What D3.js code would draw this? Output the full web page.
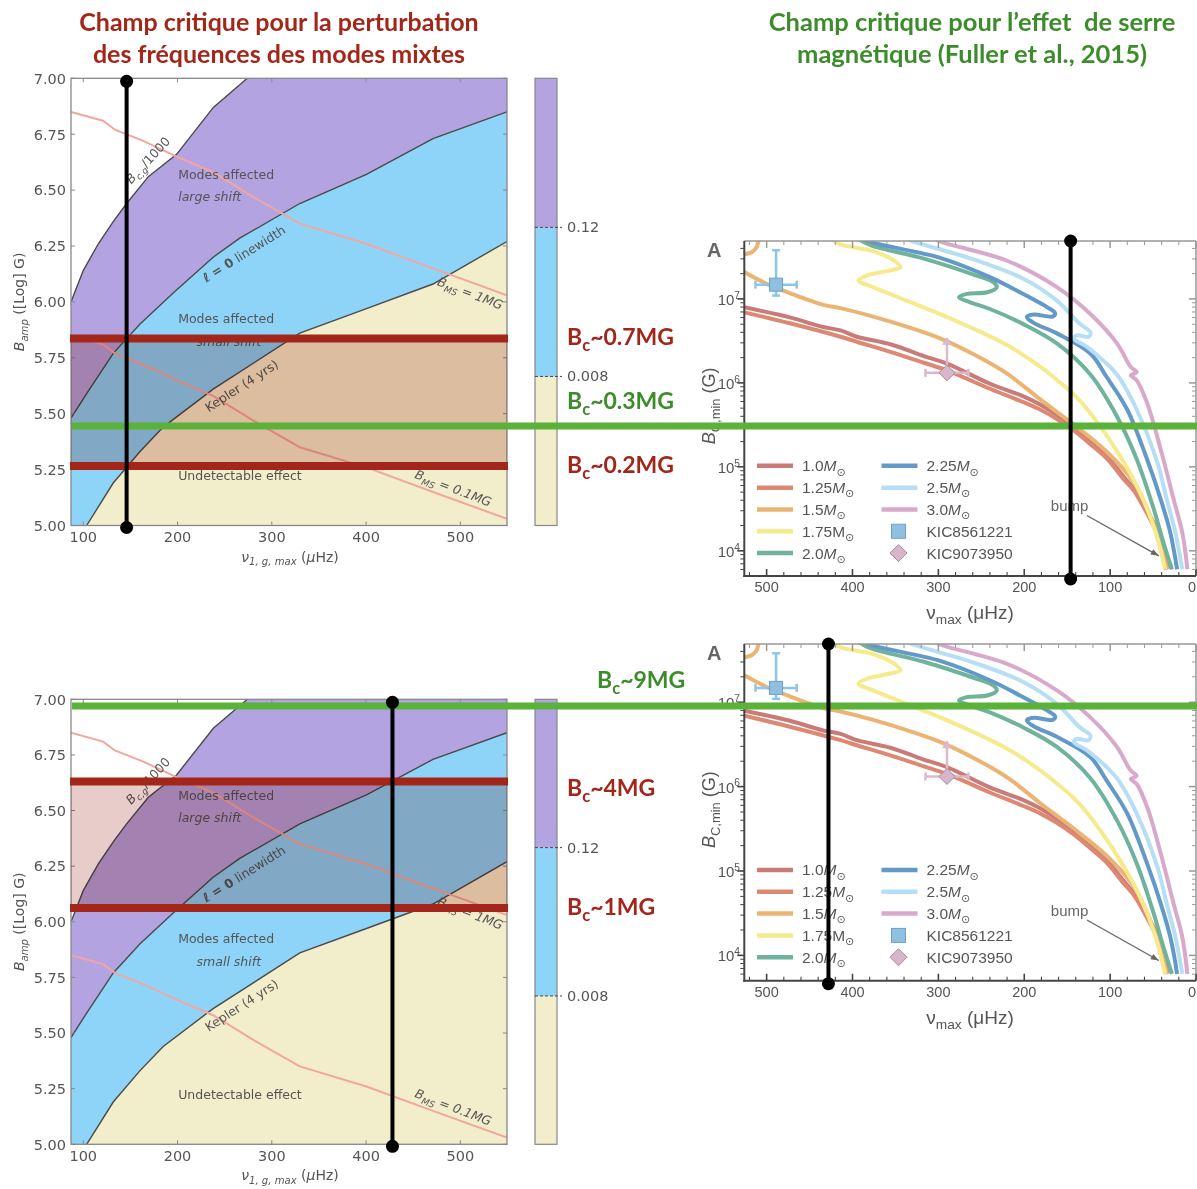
<!DOCTYPE html>
<html><head><meta charset="utf-8">
<script src="https://cdn.jsdelivr.net/npm/d3@7/dist/d3.min.js"></script>
<style>
body{margin:0;background:#fff}
svg{display:block}
text{white-space:pre}
</style></head><body>
<svg id="c" width="1197" height="1189"></svg>
<script>
// ================= DATA =================
const titleRed = ["Champ critique pour la perturbation", "des fréquences des modes mixtes"];
const titleGreen = ["Champ critique pour l’effet  de serre", "magnétique (Fuller et al., 2015)"];

const leftXTicks = [100, 200, 300, 400, 500];
const leftYTicks = [5.00, 5.25, 5.50, 5.75, 6.00, 6.25, 6.50, 6.75, 7.00];
const bcgCurve = [[87,6.00],[100,6.14],[116,6.26],[132,6.36],[146,6.44],[169,6.56],[199,6.66],[238,6.87],[274,7.00]];
const l0Curve = [[87,5.48],[103.6,5.59],[131.8,5.77],[160,5.90],[195.4,6.04],[237.8,6.20],[266,6.285],[329.7,6.44],[400.4,6.57],[471,6.73],[549.4,6.85]];
const keplerCurve = [[103.6,5.00],[131.8,5.19],[160,5.33],[184.8,5.44],[237.8,5.61],[329.7,5.86],[400.4,5.97],[471,6.08],[549.4,6.27]];
const bms1Curve = [[87,6.85],[121,6.81],[133.6,6.77],[163.6,6.72],[199,6.65],[237.8,6.58],[280,6.47],[329.7,6.35],[400.4,6.26],[471,6.15],[549.4,6.03]];
const bms01Curve = [[87,5.85],[121,5.81],[133.6,5.77],[163.6,5.72],[199,5.65],[237.8,5.58],[280,5.47],[329.7,5.35],[400.4,5.26],[471,5.15],[549.4,5.03]];
const cbColors = ['#f2edca', '#8ed4f9', '#b3a3e1'];
const cbLabels = ['0.008', '0.12'];

const nuTicks = [500, 400, 300, 200, 100, 0];
const bExps = [4, 5, 6, 7];
const massNames = ['1.0', '1.25', '1.5', '1.75', '2.0', '2.25', '2.5', '3.0'];
const massColors = ['#c97b78', '#dd8872', '#ebb472', '#f6ea8c', '#6fb39d', '#6399c8', '#b6def5', '#d9a9cc'];
const m100 = [[526,6.90],[473,6.78],[434,6.665],[414,6.625],[395,6.55],[356,6.46],[317,6.32],[290,6.23],[240,5.99],[201,5.84],[181,5.74],[162,5.62],[142,5.47],[123,5.30],[104,5.13],[84,4.88],[72,4.73],[57,4.46],[49,4.33],[43,4.14],[38,3.94],[35,3.78]];
const m125 = [[526,6.84],[473,6.71],[414,6.55],[395,6.49],[356,6.37],[317,6.24],[290,6.15],[240,5.93],[201,5.77],[181,5.68],[162,5.57],[142,5.43],[123,5.27],[104,5.10],[84,4.85],[72,4.71],[53,4.37],[45,4.20],[38,4.00],[33,3.78]];
const m150 = [[526,7.32],[500,7.18],[473,7.07],[434,6.93],[414,6.89],[376,6.79],[337,6.67],[298,6.53],[259,6.34],[220,6.11],[181,5.80],[142,5.50],[104,5.18],[72,4.81],[53,4.41],[41,4.06],[34,3.78]];
const m150b = [[509,7.72],[510,7.67],[512,7.61],[517,7.56],[526,7.53]];
const m175 = [[426,7.72],[414,7.65],[376,7.57],[352,7.46],[344,7.38],[356,7.34],[383,7.28],[393,7.22],[376,7.14],[337,6.98],[298,6.82],[259,6.645],[220,6.45],[181,6.19],[166,6.07],[142,5.86],[123,5.64],[88,5.12],[65,4.69],[47,4.22],[36,3.78]];
const m200 = [[394,7.72],[379,7.64],[317,7.48],[259,7.29],[236,7.20],[232,7.14],[243,7.08],[267,7.06],[276,7.02],[263,6.96],[240,6.88],[201,6.70],[162,6.47],[123,6.10],[92,5.60],[69,5.09],[49,4.49],[38,4.10],[28,3.78]];
const m225 = [[388,7.72],[376,7.67],[298,7.49],[240,7.26],[205,7.08],[173,6.90],[164,6.83],[167,6.79],[189,6.815],[197,6.785],[189,6.715],[162,6.59],[123,6.35],[104,6.07],[80,5.68],[57,5.09],[41,4.61],[30,4.22],[22,3.78]];
const m250 = [[338,7.72],[325,7.67],[259,7.47],[201,7.24],[162,6.98],[135,6.70],[123,6.605],[125,6.55],[139,6.565],[142,6.525],[127,6.43],[104,6.23],[90,6.07],[69,5.68],[45,5.05],[34,4.61],[24,4.22],[16,3.78]];
const m300 = [[306,7.72],[294,7.67],[220,7.455],[162,7.14],[123,6.82],[92,6.47],[76,6.19],[69,6.13],[72,6.11],[76,6.09],[69,6.03],[60,5.84],[53,5.64],[38,5.09],[26,4.61],[16,4.22],[10,3.78]];
const massCurves = [[m100], [m125], [m150, m150b], [m175], [m200], [m225], [m250], [m300]];
const massItalicM = [true, true, true, false, true, true, true, true];
const kicNames = ['KIC8561221', 'KIC9073950'];
const kic1 = {nu: 489, b: 7.17, nuLo: 465, nuHi: 513, bLo: 7.04, bHi: 7.58};
const kic2 = {nu: 290, b: 6.12, nuLo: 265, nuHi: 315, bUp: 6.55};
const bump = {label: 'bump', textNu: 169, textB: 4.47, fromNu: 127, fromB: 4.42, toNu: 43.3, toB: 3.94};

const annTop = {red: [5.836, 5.266], green: 5.445, nu: 146, labels: [['0.7MG','r',0],['0.3MG','g',0],['0.2MG','r',0]]};
const annBot = {red: [6.631, 6.062], green: 6.97, nu: 428, labels: [['9MG','g',1],['4MG','r',0],['1MG','r',0]]};

// ================= DRAW =================
const svg = d3.select('#c');
const defs = svg.append('defs');
const FL = "'DejaVu Sans', sans-serif";
const FR = "'Liberation Sans', Arial, sans-serif";
const FT = "Lato, 'Open Sans', sans-serif";
const RED = '#a3261a', GREENT = '#3d8c2b', GREENL = '#5ab23b';

function rich(txt, parts, size) {
  let cur = 0;
  parts.forEach(p => {
    const ts = txt.append('tspan').text(p.t);
    let target = 0, fs = size;
    if (p.sub) { target = size * 0.28; fs = size * 0.72; }
    if (p.sup) { target = -size * 0.42; fs = size * 0.68; }
    ts.attr('font-size', fs);
    if (target !== cur) { ts.attr('dy', target - cur); cur = target; }
    if (p.i) ts.attr('font-style', 'italic');
    if (p.b) ts.attr('font-weight', 'bold');
    if (p.f) ts.attr('font-family', p.f);
  });
}

titleRed.forEach((t, i) => svg.append('text').attr('x', 279).attr('y', 31 + i * 32).attr('text-anchor', 'middle')
  .attr('font-family', FT).attr('font-weight', 'bold').attr('font-size', 25).attr('fill', RED).text(t));
titleGreen.forEach((t, i) => svg.append('text').attr('x', 972).attr('y', 31 + i * 32).attr('text-anchor', 'middle')
  .attr('font-family', FT).attr('font-weight', 'bold').attr('font-size', 25.5).attr('fill', GREENT).text(t));

const LX = [71, 507];
const xL = d3.scaleLinear().domain([87, 549.5]).range(LX);

function drawLeft(top, bottom, cid) {
  const y = d3.scaleLinear().domain([5, 7]).range([bottom, top]);
  defs.append('clipPath').attr('id', cid).append('rect').attr('x', LX[0]).attr('y', top)
    .attr('width', LX[1] - LX[0]).attr('height', bottom - top);
  const g = svg.append('g');
  const gc = g.append('g').attr('clip-path', `url(#${cid})`);
  gc.append('rect').attr('x', LX[0]).attr('y', top).attr('width', LX[1] - LX[0]).attr('height', bottom - top).attr('fill', cbColors[2]);
  gc.append('path').datum(bcgCurve).attr('fill', '#fff')
    .attr('d', d3.area().x(d => xL(d[0])).y0(top - 10).y1(d => y(d[1])));
  gc.append('path').datum(l0Curve).attr('fill', cbColors[1])
    .attr('d', d3.area().x(d => xL(d[0])).y0(bottom + 10).y1(d => y(d[1])));
  gc.append('path').datum(keplerCurve).attr('fill', cbColors[0])
    .attr('d', d3.area().x(d => xL(d[0])).y0(bottom + 10).y1(d => y(d[1])));
  const line = d3.line().x(d => xL(d[0])).y(d => y(d[1]));
  [bcgCurve, l0Curve, keplerCurve].forEach(c => gc.append('path').datum(c).attr('fill', 'none')
    .attr('stroke', '#4a4a4a').attr('stroke-width', 1.4).attr('d', line));
  [bms1Curve, bms01Curve].forEach(c => gc.append('path').datum(c).attr('fill', 'none')
    .attr('stroke', '#f2a69e').attr('stroke-width', 2).attr('d', line));

  const lab = (nu, v, rot, parts, size, anchor) => {
    const t = g.append('text').attr('font-family', FL).attr('fill', '#555').attr('font-size', size)
      .attr('text-anchor', anchor || 'middle')
      .attr('transform', `translate(${xL(nu)},${y(v) + size * 0.35}) rotate(${rot})`);
    rich(t, parts, size);
  };
  lab(172, 6.64, -47, [{t: 'B', i: 1}, {t: 'c,g', sub: 1, i: 1}, {t: '/1000'}], 12.5);
  lab(200.7, 6.569, 0, [{t: 'Modes affected'}], 12.5, 'start');
  lab(200.7, 6.47, 0, [{t: 'large shift', i: 1}], 12.5, 'start');
  lab(273, 6.218, -32, [{t: 'ℓ = 0', b: 1}, {t: ' linewidth'}], 12.5);
  lab(200.7, 5.924, 0, [{t: 'Modes affected'}], 12.5, 'start');
  lab(220.2, 5.822, 0, [{t: 'small shift', i: 1}], 12.5, 'start');
  lab(270.5, 5.628, -33, [{t: 'Kepler (4 yrs)'}], 12.5);
  lab(200.7, 5.224, 0, [{t: 'Undetectable effect'}], 12.5, 'start');
  lab(508.8, 6.04, 21, [{t: 'B', i: 1}, {t: 'MS', sub: 1, i: 1}, {t: ' = 1MG', i: 1}], 12.5);
  lab(490.8, 5.168, 21, [{t: 'B', i: 1}, {t: 'MS', sub: 1, i: 1}, {t: ' = 0.1MG', i: 1}], 12.5);

  g.append('rect').attr('x', LX[0]).attr('y', top).attr('width', LX[1] - LX[0]).attr('height', bottom - top)
    .attr('fill', 'none').attr('stroke', '#888').attr('stroke-width', 1.3);
  leftXTicks.forEach(v => {
    g.append('line').attr('x1', xL(v)).attr('x2', xL(v)).attr('y1', bottom).attr('y2', bottom - 4).attr('stroke', '#888');
    g.append('line').attr('x1', xL(v)).attr('x2', xL(v)).attr('y1', top).attr('y2', top + 4).attr('stroke', '#888');
    g.append('text').attr('x', xL(v)).attr('y', bottom + 16.5).attr('text-anchor', 'middle')
      .attr('font-family', FL).attr('font-size', 14.5).attr('fill', '#555').text(v);
  });
  leftYTicks.forEach(v => {
    g.append('line').attr('x1', LX[0]).attr('x2', LX[0] + 4).attr('y1', y(v)).attr('y2', y(v)).attr('stroke', '#888');
    g.append('line').attr('x1', LX[1]).attr('x2', LX[1] - 4).attr('y1', y(v)).attr('y2', y(v)).attr('stroke', '#888');
    g.append('text').attr('x', 66).attr('y', y(v) + 5.3).attr('text-anchor', 'end')
      .attr('font-family', FL).attr('font-size', 14.5).attr('fill', '#555').text(v.toFixed(2));
  });
  const xl = g.append('text').attr('x', (LX[0] + LX[1]) / 2 + 1).attr('y', bottom + 36).attr('text-anchor', 'middle')
    .attr('font-family', FL).attr('font-size', 14).attr('fill', '#555');
  rich(xl, [{t: 'ν', i: 1}, {t: '1, g, max', sub: 1, i: 1}, {t: ' ('}, {t: 'μ', i: 1}, {t: 'Hz)'}], 14);
  const yl = g.append('text').attr('transform', `translate(24,${(top + bottom) / 2}) rotate(-90)`).attr('text-anchor', 'middle')
    .attr('font-family', FL).attr('font-size', 14).attr('fill', '#555');
  rich(yl, [{t: 'B', i: 1}, {t: 'amp', sub: 1, i: 1}, {t: ' ([Log] G)'}], 14);

  const yc = d3.scaleLinear().domain([0, 3]).range([bottom, top]);
  cbColors.forEach((c, i) => g.append('rect').attr('x', 535).attr('width', 22).attr('y', yc(i + 1))
    .attr('height', yc(i) - yc(i + 1)).attr('fill', c));
  g.append('rect').attr('x', 535).attr('width', 22).attr('y', top).attr('height', bottom - top)
    .attr('fill', 'none').attr('stroke', '#888').attr('stroke-width', 1.2);
  cbLabels.forEach((l, i) => {
    g.append('line').attr('x1', 535).attr('x2', 562).attr('y1', yc(i + 1)).attr('y2', yc(i + 1))
      .attr('stroke', '#444').attr('stroke-dasharray', '3,2').attr('stroke-width', 1);
    g.append('text').attr('x', 567).attr('y', yc(i + 1) + 5).attr('font-family', FL).attr('font-size', 14.5)
      .attr('fill', '#555').text(l);
  });
  return y;
}

function drawRight(top, bottom, cid) {
  const X0 = 744.3, X1 = 1196;
  const x = d3.scaleLinear().domain([526, 0]).range([X0, X1]);
  const yl = d3.scaleLog().domain([Math.pow(10, 3.70), Math.pow(10, 7.69)]).range([bottom, top]);
  const Y = v => yl(Math.pow(10, v));
  defs.append('clipPath').attr('id', cid).append('rect').attr('x', X0).attr('y', top).attr('width', X1 - X0).attr('height', bottom - top);
  const g = svg.append('g');
  const gc = g.append('g').attr('clip-path', `url(#${cid})`);
  const line = d3.line().x(d => x(d[0])).y(d => Y(d[1])).curve(d3.curveCatmullRom.alpha(0.5));
  massCurves.forEach((segs, i) => segs.forEach(s => gc.append('path').datum(s).attr('fill', 'none')
    .attr('stroke', massColors[i]).attr('stroke-width', 4).attr('stroke-linejoin', 'round').attr('d', line)));

  const c1 = '#8cc5ea';
  const k1 = g.append('g').attr('stroke', c1).attr('stroke-width', 2.5);
  k1.append('line').attr('x1', x(kic1.nuLo)).attr('x2', x(kic1.nuHi)).attr('y1', Y(kic1.b)).attr('y2', Y(kic1.b));
  k1.append('line').attr('x1', x(kic1.nu)).attr('x2', x(kic1.nu)).attr('y1', Y(kic1.bLo)).attr('y2', Y(kic1.bHi));
  [kic1.nuLo, kic1.nuHi].forEach(n => k1.append('line').attr('x1', x(n)).attr('x2', x(n)).attr('y1', Y(kic1.b) - 4).attr('y2', Y(kic1.b) + 4));
  [kic1.bLo, kic1.bHi].forEach(b => k1.append('line').attr('x1', x(kic1.nu) - 4).attr('x2', x(kic1.nu) + 4).attr('y1', Y(b)).attr('y2', Y(b)));
  g.append('rect').attr('x', x(kic1.nu) - 6.5).attr('y', Y(kic1.b) - 6.5).attr('width', 13).attr('height', 13)
    .attr('fill', '#8fc0e2').attr('stroke', '#6e9fc4').attr('stroke-width', 1);
  const c2 = '#dcb8cb';
  const k2 = g.append('g').attr('stroke', c2).attr('stroke-width', 2.5);
  k2.append('line').attr('x1', x(kic2.nuLo)).attr('x2', x(kic2.nuHi)).attr('y1', Y(kic2.b)).attr('y2', Y(kic2.b));
  [kic2.nuLo, kic2.nuHi].forEach(n => k2.append('line').attr('x1', x(n)).attr('x2', x(n)).attr('y1', Y(kic2.b) - 4).attr('y2', Y(kic2.b) + 4));
  k2.append('line').attr('x1', x(kic2.nu)).attr('x2', x(kic2.nu)).attr('y1', Y(kic2.b)).attr('y2', Y(kic2.bUp) + 6);
  g.append('path').attr('d', `M${x(kic2.nu)},${Y(kic2.bUp)} l-5,8 l10,0 z`).attr('fill', c2);
  g.append('path').attr('d', `M${x(kic2.nu)},${Y(kic2.b) - 8} l8,8 l-8,8 l-8,-8 z`)
    .attr('fill', '#d8b6c9').attr('stroke', '#a98c9d').attr('stroke-width', 1);

  g.append('text').attr('x', x(bump.textNu)).attr('y', Y(bump.textB)).attr('font-family', FR).attr('font-size', 15)
    .attr('fill', '#666').text(bump.label);
  const ax1 = x(bump.fromNu), ay1 = Y(bump.fromB), ax2 = x(bump.toNu), ay2 = Y(bump.toB);
  g.append('line').attr('x1', ax1).attr('y1', ay1).attr('x2', ax2).attr('y2', ay2).attr('stroke', '#666').attr('stroke-width', 1.3);
  const ang = Math.atan2(ay2 - ay1, ax2 - ax1) * 180 / Math.PI;
  g.append('path').attr('d', 'M0,0 L-8,-3 L-8,3 Z').attr('fill', '#666').attr('transform', `translate(${ax2},${ay2}) rotate(${ang})`);

  g.append('line').attr('x1', X0).attr('x2', X1).attr('y1', top).attr('y2', top).attr('stroke', '#999').attr('stroke-width', 1.5);
  g.append('line').attr('x1', X1).attr('x2', X1).attr('y1', top).attr('y2', bottom).attr('stroke', '#999').attr('stroke-width', 1.5);
  g.append('line').attr('x1', X0).attr('x2', X0).attr('y1', top).attr('y2', bottom + 1).attr('stroke', '#444').attr('stroke-width', 2);
  g.append('line').attr('x1', X0 - 1).attr('x2', X1).attr('y1', bottom).attr('y2', bottom).attr('stroke', '#444').attr('stroke-width', 2);
  d3.range(0, 521, 20).forEach(v => {
    const maj = v % 100 === 0, L = maj ? 7 : 4;
    g.append('line').attr('x1', x(v)).attr('x2', x(v)).attr('y1', bottom).attr('y2', bottom - L).attr('stroke', '#444').attr('stroke-width', maj ? 1.6 : 1.1);
    g.append('line').attr('x1', x(v)).attr('x2', x(v)).attr('y1', top).attr('y2', top + L).attr('stroke', '#999').attr('stroke-width', maj ? 1.5 : 1);
  });
  nuTicks.forEach(v => g.append('text').attr('x', v === 0 ? 1196 : x(v)).attr('y', bottom + 16)
    .attr('text-anchor', v === 0 ? 'end' : 'middle')
    .attr('font-family', FR).attr('font-size', 14.5).attr('fill', '#555').text(v));
  [3, 4, 5, 6, 7].forEach(e => d3.range(1, 10).forEach(m => {
    const lv = e + Math.log10(m);
    if (lv < 3.70 || lv > 7.69) return;
    const maj = m === 1, L = maj ? 7 : 4, yy = Y(lv);
    g.append('line').attr('x1', X0).attr('x2', X0 - L).attr('y1', yy).attr('y2', yy).attr('stroke', '#444').attr('stroke-width', maj ? 1.6 : 1);
    g.append('line').attr('x1', X1).attr('x2', X1 - L).attr('y1', yy).attr('y2', yy).attr('stroke', '#999').attr('stroke-width', maj ? 1.5 : 1);
  }));
  bExps.forEach(e => {
    const t = g.append('text').attr('x', 740).attr('y', Y(e) + 6).attr('text-anchor', 'end')
      .attr('font-family', FR).attr('font-size', 15).attr('fill', '#555');
    rich(t, [{t: '10'}, {t: String(e), sup: 1}], 15);
  });
  g.append('text').attr('x', 707).attr('y', top + 16).attr('font-family', FR).attr('font-weight', 'bold')
    .attr('font-size', 20).attr('fill', '#666').text('A');
  const xlab = g.append('text').attr('x', 970).attr('y', bottom + 43).attr('text-anchor', 'middle')
    .attr('font-family', FR).attr('font-size', 19).attr('fill', '#555');
  rich(xlab, [{t: 'ν'}, {t: 'max', sub: 1}, {t: ' (μHz)'}], 19);
  const ylab = g.append('text').attr('transform', `translate(715,${Y(6) + 23}) rotate(-90)`).attr('text-anchor', 'middle')
    .attr('font-family', FR).attr('font-size', 18).attr('fill', '#555');
  rich(ylab, [{t: 'B', i: 1}, {t: 'C,min', sub: 1}, {t: ' (G)'}], 18);

  const ly0 = Y(5) - 1, step = 21.8;
  massNames.forEach((n, i) => {
    const col = i < 5 ? 0 : 1, row = i < 5 ? i : i - 5;
    const sx = col ? 881.5 : 757, yy = ly0 + row * step;
    g.append('line').attr('x1', sx).attr('x2', sx + 36).attr('y1', yy).attr('y2', yy).attr('stroke', massColors[i]).attr('stroke-width', 4.5);
    const t = g.append('text').attr('x', sx + 45).attr('y', yy + 5.5).attr('font-family', FR).attr('font-size', 15.5).attr('fill', '#555');
    rich(t, [{t: n}, {t: 'M', i: massItalicM[i]}, {t: '⊙', sub: 1, f: "'DejaVu Sans'"}], 15.5);
  });
  const ky1 = ly0 + 3 * step, ky2 = ly0 + 4 * step;
  g.append('rect').attr('x', 898.5 - 7).attr('y', ky1 - 7).attr('width', 14).attr('height', 14)
    .attr('fill', '#8fc0e2').attr('stroke', '#6e9fc4');
  g.append('path').attr('d', `M898.5,${ky2 - 8.5} l8.5,8.5 l-8.5,8.5 l-8.5,-8.5 z`).attr('fill', '#d8b6c9').attr('stroke', '#a98c9d');
  kicNames.forEach((k, i) => g.append('text').attr('x', 926.5).attr('y', ly0 + (3 + i) * step + 5.5)
    .attr('font-family', FR).attr('font-size', 15.5).attr('fill', '#555').text(k));
  return {x, Y};
}

const yTop = drawLeft(78.3, 525.5, 'clT');
const yBot = drawLeft(699.3, 1144.3, 'clB');
const rTop = drawRight(241, 576, 'crT');
const rBot = drawRight(644, 980.7, 'crB');

function annotate(ann, y, r, top, bottom, rtop, rbottom, labelY) {
  const g = svg.append('g');
  g.append('rect').attr('x', LX[0]).attr('width', LX[1] - LX[0]).attr('y', y(ann.red[0])).attr('height', y(ann.red[1]) - y(ann.red[0]))
    .attr('fill', 'rgb(232,204,202)').style('mix-blend-mode', 'multiply');
  ann.red.forEach(v => g.append('line').attr('x1', 70).attr('x2', 508).attr('y1', y(v)).attr('y2', y(v))
    .attr('stroke', RED).attr('stroke-width', 8));
  g.append('line').attr('x1', 72).attr('x2', 1197).attr('y1', y(ann.green)).attr('y2', y(ann.green))
    .attr('stroke', GREENL).attr('stroke-width', 7);
  const vl = (xx, y1, y2) => {
    g.append('line').attr('x1', xx).attr('x2', xx).attr('y1', y1).attr('y2', y2).attr('stroke', '#000').attr('stroke-width', 4);
    [y1, y2].forEach(yy => g.append('circle').attr('cx', xx).attr('cy', yy).attr('r', 6.5).attr('fill', '#000'));
  };
  vl(xL(ann.nu), top + 3, bottom + 2);
  vl(r.x(ann.nu), rtop, rbottom + 3);
  ann.labels.forEach((l, i) => {
    const t = g.append('text').attr('x', l[2] ? 597 : 567).attr('y', labelY[i] + 8)
      .attr('font-family', FT).attr('font-weight', 'bold').attr('font-size', 23).attr('fill', l[1] === 'r' ? RED : GREENT);
    rich(t, [{t: 'B'}, {t: 'c', sub: 1}, {t: '~' + l[0]}], 23);
  });
}
annotate(annTop, yTop, rTop, 78.3, 525.5, 241, 576, [337, 401, 465]);
annotate(annBot, yBot, rBot, 699.3, 1144.3, 644, 980.7, [680, 788, 907]);
</script>
</body></html>
